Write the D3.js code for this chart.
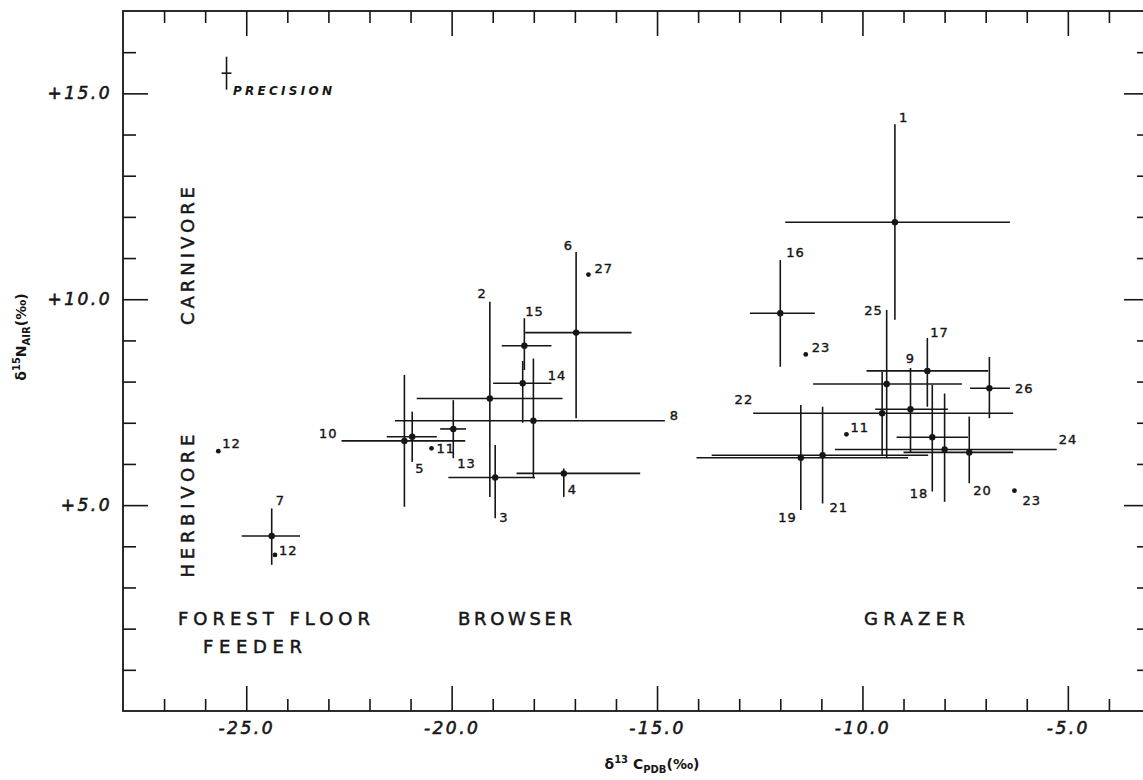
<!DOCTYPE html>
<html>
<head>
<meta charset="utf-8">
<script src="https://cdn.jsdelivr.net/npm/d3@7"></script>
<style>
body { margin: 0; background: #fff; }
</style>
</head>
<body>
<script>
// sample numbers (label beside each point)
var ids = ["1", "2", "3", "4", "5", "6", "7", "8", "9", "10", "11", "11", "12", "12", "13",
  "14", "15", "16", "17", "18", "19", "20", "21", "22", "23", "23", "24", "25", "26", "27"];

// d13C PDB (per mil) and d15N AIR (per mil)
var carbon = [-9.21, -19.07, -18.94, -17.27, -20.96, -16.97, -24.38, -18.01, -8.83, -21.15,
  -20.49, -10.39, -25.68, -24.3, -19.96, -18.27, -18.23, -12.0, -8.42, -8.3,
  -11.5, -7.4, -10.97, -9.52, -11.38, -6.3, -8.0, -9.41, -6.91, -16.67];
var nitrogen = [11.87, 7.59, 5.67, 5.77, 6.66, 9.19, 4.25, 7.05, 7.33, 6.56,
  6.38, 6.72, 6.31, 3.79, 6.85, 7.96, 8.87, 9.66, 8.26, 6.65,
  6.15, 6.28, 6.21, 7.23, 8.66, 5.35, 6.35, 7.94, 7.84, 10.6];

// ranges (null = single sample, no bar)
var carbonLow = [-11.88, -20.85, -20.08, -18.42, -21.58, -18.21, -25.11, -21.38, -9.69, -22.68,
  null, null, null, null, -20.28, -18.99, -18.78, -12.74, -9.9, -9.17,
  -14.04, -9.0, -13.67, -12.66, null, null, -10.67, -11.2, -7.38, null];
var carbonHigh = [-6.41, -17.3, -17.97, -15.41, -20.36, -15.62, -23.69, -14.81, -7.92, -19.67,
  null, null, null, null, -19.65, -17.57, -17.57, -11.16, -6.94, -7.43,
  -8.89, -6.33, -8.4, -6.33, null, null, -5.27, -7.58, -6.41, null];
var nitrogenLow = [9.5, 5.2, 4.68, 5.2, 6.05, 7.11, 3.55, 5.65, 6.27, 4.96,
  null, null, null, null, 6.14, 7.0, 8.28, 8.36, 7.39, 5.33,
  4.88, 5.53, 5.04, 6.22, null, null, 5.08, 6.14, 7.11, null];
var nitrogenHigh = [14.25, 9.94, 6.46, 5.89, 7.27, 11.15, 4.92, 8.56, 8.33, 8.16,
  null, null, null, null, 7.55, 8.5, 9.54, 10.95, 9.06, 7.92,
  7.43, 7.15, 7.39, 8.24, null, null, 7.71, 9.74, 8.6, null];

// precision cross
var precisionC = [-25.48, -25.6, -25.36];
var precisionN = [15.49, 15.09, 15.89];

// axis tick labels
var xTickValues = [-25, -20, -15, -10, -5];
var xTickLabels = ["-25.0", "-20.0", "-15.0", "-10.0", "-5.0"];
var yTickValues = [5, 10, 15];
var yTickLabels = ["+5.0", "+10.0", "+15.0"];

// where each number label sits: end of bar it hangs on, offset, text anchor
var labelPlace = [
  ["top", 4, -2, "start"], ["top", -3, -4, "end"], ["bottom", 4, 4, "start"], ["bottom", 4, -3, "start"],
  ["bottom", 3, 11, "start"], ["top", -3, -2, "end"], ["top", 4, -3, "start"], ["right", 5, -1, "start"],
  ["top", 0, -5, "middle"], ["left", -4, -3, "end"], ["dot", 5, 5, "start"], ["dot", 4, -2, "start"],
  ["dot", 4, -3, "start"], ["dot", 4, 0, "start"], ["bottom", 4, 10, "start"], ["dot", 25, -3, "start"],
  ["top", 1, -2, "start"], ["top", 6, -3, "start"], ["top", 3, -1, "start"], ["bottom", -4, 6, "end"],
  ["bottom", -4, 12, "end"], ["bottom", 4, 12, "start"], ["bottom", 7, 9, "start"], ["left", 0, -9, "end"],
  ["dot", 6, -2, "start"], ["dot", 8, 14, "start"], ["right", 2, -6, "start"], ["top", -4, 5, "end"],
  ["right", 5, 5, "start"], ["dot", 6, -2, "start"]
];

var ink = "#161616";

var svg = d3.select("body").append("svg")
  .attr("width", 1143)
  .attr("height", 780);

var x = d3.scaleLinear().domain([-28, -3]).range([123, 1150]);
var y = d3.scaleLinear().domain([0, 17]).range([711, 11]);

var xMinor = d3.range(-27, -3).filter(function (v) { return v % 5 != 0; });
var yMinor = d3.range(1, 17).filter(function (v) { return v % 5 != 0; });

function clean(g) {
  g.select(".domain").remove();
  g.selectAll("line").attr("stroke", ink).attr("stroke-width", 1.6);
}

// ticks all round, pointing in
svg.append("g").attr("transform", "translate(0,711)")
  .call(d3.axisBottom(x).tickValues(xMinor).tickSize(-12).tickFormat("")).call(clean);
svg.append("g").attr("transform", "translate(0,711)")
  .call(d3.axisBottom(x).tickValues(xTickValues).tickSize(-25).tickPadding(11)
    .tickFormat(function (d, i) { return xTickLabels[i]; }))
  .call(clean);
svg.append("g").attr("transform", "translate(0,11)")
  .call(d3.axisTop(x).tickValues(xMinor).tickSize(-12).tickFormat("")).call(clean);
svg.append("g").attr("transform", "translate(0,11)")
  .call(d3.axisTop(x).tickValues(xTickValues).tickSize(-25).tickFormat("")).call(clean);
svg.append("g").attr("transform", "translate(123,0)")
  .call(d3.axisLeft(y).tickValues(yMinor).tickSize(-13).tickFormat("")).call(clean);
svg.append("g").attr("transform", "translate(123,0)")
  .call(d3.axisLeft(y).tickValues(yTickValues).tickSize(-25).tickPadding(11)
    .tickFormat(function (d, i) { return yTickLabels[i]; }))
  .call(clean);
svg.append("g").attr("transform", "translate(1150,0)")
  .call(d3.axisRight(y).tickValues(yMinor).tickSize(-13).tickFormat("")).call(clean);
svg.append("g").attr("transform", "translate(1150,0)")
  .call(d3.axisRight(y).tickValues(yTickValues).tickSize(-26).tickFormat("")).call(clean);

svg.selectAll(".tick text")
  .attr("fill", ink)
  .attr("stroke", ink).attr("stroke-width", 0.6)
  .style("font-family", "DejaVu Sans")
  .style("font-style", "italic")
  .style("font-size", "17px")
  .style("letter-spacing", "2.5px");

// frame
svg.append("rect")
  .attr("x", x(-28)).attr("y", y(17))
  .attr("width", x(-3) - x(-28)).attr("height", y(0) - y(17))
  .attr("fill", "none").attr("stroke", ink).attr("stroke-width", 1.8);

// error bars
var idx = d3.range(ids.length);
var bars = idx.filter(function (i) { return carbonLow[i] != null; });
var plot = svg.append("g");

plot.selectAll(".hbar").data(bars).enter().append("line")
  .attr("x1", function (i) { return x(carbonLow[i]); })
  .attr("x2", function (i) { return x(carbonHigh[i]); })
  .attr("y1", function (i) { return y(nitrogen[i]); })
  .attr("y2", function (i) { return y(nitrogen[i]); })
  .attr("stroke", ink).attr("stroke-width", 1.6);

plot.selectAll(".vbar").data(bars).enter().append("line")
  .attr("x1", function (i) { return x(carbon[i]); })
  .attr("x2", function (i) { return x(carbon[i]); })
  .attr("y1", function (i) { return y(nitrogenLow[i]); })
  .attr("y2", function (i) { return y(nitrogenHigh[i]); })
  .attr("stroke", ink).attr("stroke-width", 1.6);

plot.selectAll("circle").data(idx).enter().append("circle")
  .attr("cx", function (i) { return x(carbon[i]); })
  .attr("cy", function (i) { return y(nitrogen[i]); })
  .attr("r", function (i) { return carbonLow[i] == null ? 2.4 : 3.2; })
  .attr("fill", ink);

// number labels
function anchorX(i) {
  var p = labelPlace[i][0];
  if (p == "left") return x(carbonLow[i]);
  if (p == "right") return x(carbonHigh[i]);
  return x(carbon[i]);
}
function anchorY(i) {
  var p = labelPlace[i][0];
  if (p == "top") return y(nitrogenHigh[i]);
  if (p == "bottom") return y(nitrogenLow[i]);
  return y(nitrogen[i]);
}

plot.selectAll("text").data(idx).enter().append("text")
  .attr("x", function (i) { return anchorX(i) + labelPlace[i][1]; })
  .attr("y", function (i) { return anchorY(i) + labelPlace[i][2]; })
  .attr("text-anchor", function (i) { return labelPlace[i][3]; })
  .attr("fill", ink)
  .attr("stroke", ink).attr("stroke-width", 0.4)
  .style("font-family", "DejaVu Sans")
  .style("font-size", "13px")
  .style("letter-spacing", "1px")
  .text(function (i) { return ids[i]; });

// precision marker
svg.append("line")
  .attr("x1", x(precisionC[0])).attr("x2", x(precisionC[0]))
  .attr("y1", y(precisionN[1])).attr("y2", y(precisionN[2]))
  .attr("stroke", ink).attr("stroke-width", 1.6);
svg.append("line")
  .attr("x1", x(precisionC[1])).attr("x2", x(precisionC[2]))
  .attr("y1", y(precisionN[0])).attr("y2", y(precisionN[0]))
  .attr("stroke", ink).attr("stroke-width", 1.6);
svg.append("text")
  .attr("x", 233).attr("y", 95)
  .attr("fill", ink)
  .style("font-family", "DejaVu Sans")
  .style("font-weight", "bold")
  .style("font-style", "italic")
  .style("font-size", "12px")
  .attr("textLength", 99).attr("lengthAdjust", "spacing")
  .text("PRECISION");

// feeding group captions
function caption(txt, px, py, len, rot) {
  var t = svg.append("text")
    .attr("fill", ink)
    .attr("stroke", ink).attr("stroke-width", 0.5)
    .style("font-family", "DejaVu Sans")
    .style("font-size", "18px")
    .attr("textLength", len).attr("lengthAdjust", "spacing")
    .text(txt);
  if (rot) {
    t.attr("text-anchor", "middle")
      .attr("transform", "translate(" + px + "," + py + ") rotate(-90)");
  } else {
    t.attr("x", px).attr("y", py);
  }
}
caption("CARNIVORE", 194, 256, 138, true);
caption("HERBIVORE", 194, 506, 143, true);
caption("FOREST FLOOR", 178, 625, 192, false);
caption("FEEDER", 203, 653, 99, false);
caption("BROWSER", 458, 625, 114, false);
caption("GRAZER", 864, 625, 101, false);

// axis titles
var xt = svg.append("text")
  .attr("x", 652).attr("y", 769)
  .attr("text-anchor", "middle")
  .attr("fill", ink)
  .style("font-family", "DejaVu Sans")
  .style("font-weight", "bold")
  .style("font-size", "14px");
xt.append("tspan").text("δ");
xt.append("tspan").attr("dy", -6).style("font-size", "10px").text("13");
xt.append("tspan").attr("dy", 6).text(" C");
xt.append("tspan").attr("dy", 4).style("font-size", "10px").text("PDB");
xt.append("tspan").attr("dy", -4).text("(‰)");

var yt = svg.append("text")
  .attr("transform", "translate(26,337) rotate(-90)")
  .attr("text-anchor", "middle")
  .attr("fill", ink)
  .style("font-family", "DejaVu Sans")
  .style("font-weight", "bold")
  .style("font-size", "14px");
yt.append("tspan").text("δ");
yt.append("tspan").attr("dy", -6).style("font-size", "10px").text("15");
yt.append("tspan").attr("dy", 6).text("N");
yt.append("tspan").attr("dy", 4).style("font-size", "10px").text("AIR");
yt.append("tspan").attr("dy", -4).text("(‰)");
</script>
</body>
</html>
